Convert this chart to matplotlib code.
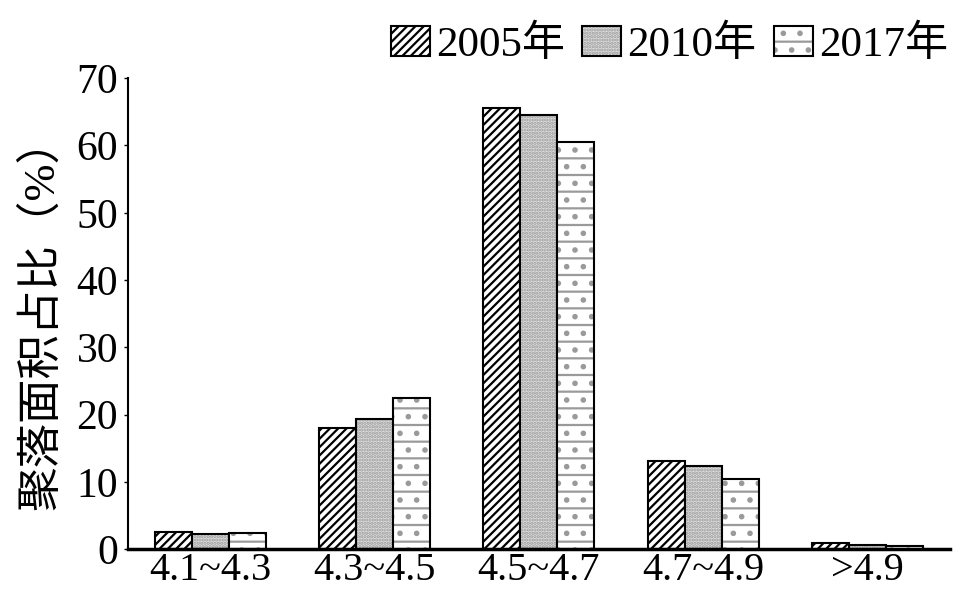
import matplotlib.pyplot as plt
import numpy as np

plt.rcParams['font.family'] = ['Liberation Serif', 'Noto Sans CJK SC']
plt.rcParams['hatch.linewidth'] = 1.6

# data
categories = ['4.1~4.3', '4.3~4.5', '4.5~4.7', '4.7~4.9', '>4.9']
years = ['2005年', '2010年', '2017年']
share_2005 = [2.5, 18.0, 65.5, 13.1, 0.9]
share_2010 = [2.2, 19.3, 64.6, 12.3, 0.7]
share_2017 = [2.4, 22.5, 60.5, 10.5, 0.5]

series = [share_2005, share_2010, share_2017]
faces = ['white', '#dedede', 'white']
hatches = ['////', '.....', '-.']
hatch_colors = ['black', '#9a9a9a', '#9a9a9a']

fig = plt.figure(figsize=(9.69, 5.97), dpi=100)
ax = fig.add_axes([0.132, 0.08, 0.848, 0.789])

x = np.arange(len(categories))
width = 0.225
for i, vals in enumerate(series):
    bars = ax.bar(x + (i - 1) * width, vals, width, facecolor=faces[i],
                  edgecolor='black', linewidth=1.5, hatch=hatches[i], label=years[i])
    for b in bars:
        b._hatch_color = plt.matplotlib.colors.to_rgba(hatch_colors[i])

ax.set_xlim(-0.5, len(categories) - 0.5)
ax.set_ylim(0, 70)
ax.set_yticks(range(0, 71, 10))
ax.set_xticks(x)
ax.set_xticklabels(categories, fontsize=29)
ax.tick_params(axis='y', labelsize=30, length=3, width=1, direction='out', pad=4)
ax.tick_params(axis='x', length=0, pad=2)

ax.spines['top'].set_visible(False)
ax.spines['right'].set_visible(False)
ax.spines['bottom'].set_linewidth(2.5)
ax.spines['left'].set_linewidth(1.5)

ax.set_ylabel('聚落面积占比（%）', fontsize=32, labelpad=10)

leg = fig.legend(loc='upper right', bbox_to_anchor=(1.005, 1.0), ncol=3, frameon=False,
                 fontsize=31, handlelength=0.9, handleheight=0.7, handletextpad=0.15,
                 columnspacing=0.4, borderaxespad=0.2)
for h, c in zip(leg.legend_handles, hatch_colors):
    h._hatch_color = plt.matplotlib.colors.to_rgba(c)

fig.savefig('out.png', dpi=100)
